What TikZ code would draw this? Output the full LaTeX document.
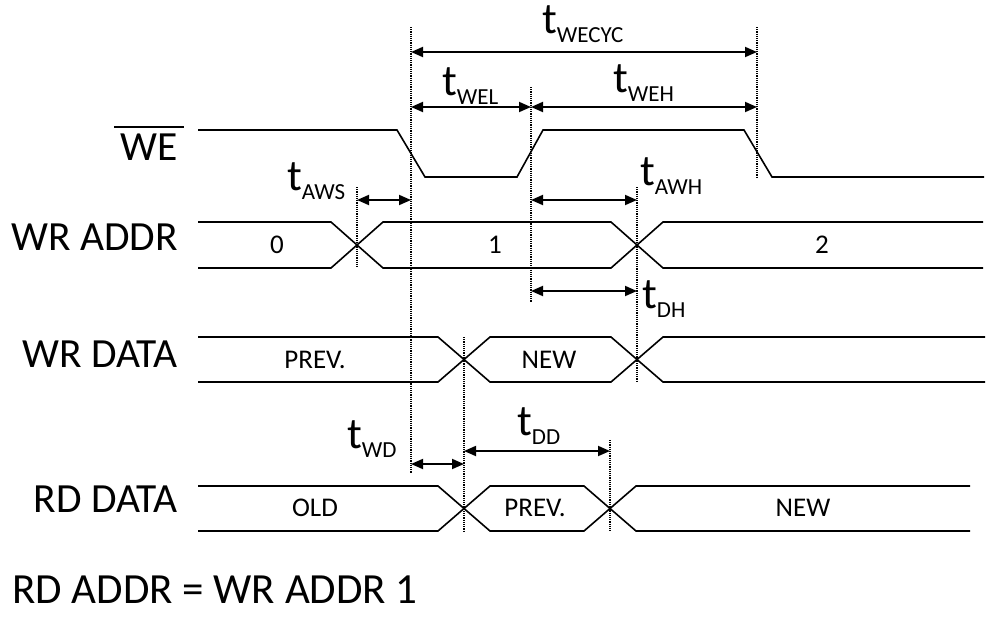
\documentclass[tikz,border=0pt]{standalone}
\usepackage{fontspec}
\setmainfont{Carlito}
\usetikzlibrary{arrows.meta,positioning,calc}

\newcommand{\tlab}[1]{{\fontsize{44}{44}\selectfont t}\raisebox{-9pt}{\fontsize{23}{23}\selectfont #1}}

\begin{document}
\begin{tikzpicture}[x=1pt,y=-1pt,
    every node/.style={inner sep=0pt},
    signame/.style={anchor=base east,font=\fontsize{41.5}{41.5}\selectfont},
    buslab/.style={font=\fontsize{27}{27}\selectfont},
    tname/.style={anchor=base west},
    wave/.style={line width=1.6pt},
    marker/.style={densely dotted,line width=1.2pt},
    dim/.style={line width=1.8pt,{Triangle[length=12pt,width=10pt]}-{Triangle[length=12pt,width=10pt]}}
  ]
  \useasboundingbox (0,0) rectangle (987,621);

  % the signal names
  \node[signame] (we) at (178,160) {WE};
  \draw[line width=2pt] ([xshift=-6pt,yshift=6pt]we.north west) -- ([xshift=6pt,yshift=6pt]we.north east);
  \node[signame] (wraddr) at (178,250) {WR ADDR};
  \node[signame] (wrdata) at (178,367) {WR DATA};
  \node[signame] (rddata) at (178,512) {RD DATA};
  \node[anchor=base west,font=\fontsize{43}{43}\selectfont] (note) at (12,603) {RD ADDR = WR ADDR 1};

  % the write enable
  \draw[wave] (198,130) -- (397,130) -- (425,177) -- (517,177) -- (543,130)
    -- (744,130) -- (772,177) -- (984,177);

  % the buses
  \foreach \ya/\yb/\xa/\xb/\xe in {222/268/357/637/983, 337/382/464/637/985, 486/531/464/610/970} {
    \draw[wave] (198,\ya) -- ({\xa-26},\ya) -- ({\xa+26},\yb) -- ({\xb-26},\yb)
      -- ({\xb+26},\ya) -- (\xe,\ya);
    \draw[wave] (198,\yb) -- ({\xa-26},\yb) -- ({\xa+26},\ya) -- ({\xb-26},\ya)
      -- ({\xb+26},\yb) -- (\xe,\yb);
  }
  \node[buslab] (a0) at (277,245) {0};
  \node[buslab] (a1) at (495,245) {1};
  \node[buslab] (a2) at (822,245) {2};
  \node[buslab] (wprev) at (315,360) {PREV.};
  \node[buslab] (wnew) at (549,360) {NEW};
  \node[buslab] (rold) at (315,508) {OLD};
  \node[buslab] (rprev) at (535,508) {PREV.};
  \node[buslab] (rnew) at (803,508) {NEW};

  % the timing markers
  \foreach \n/\x/\ya/\yb in {aws/357/187/268, wel/411/27/473, weh/531/87/302,
      cyc/757/27/177, awh/637/187/382, wd/464/337/531, dd/610/440/531} {
    \coordinate (\n-t) at (\x,\ya);
    \coordinate (\n-b) at (\x,\yb);
    \draw[marker] (\n-t) -- (\n-b);
  }

  % the timing arrows
  \draw[dim] (wel-t |- 0,52) -- (cyc-t |- 0,52);
  \draw[dim] (wel-t |- 0,107) -- (weh-t |- 0,107);
  \draw[dim] (weh-t |- 0,107) -- (cyc-t |- 0,107);
  \draw[dim] (aws-t |- 0,200) -- (wel-t |- 0,200);
  \draw[dim] (weh-t |- 0,200) -- (awh-t |- 0,200);
  \draw[dim] (weh-t |- 0,291) -- (awh-t |- 0,291);
  \draw[dim] (wel-t |- 0,464) -- (wd-t |- 0,464);
  \draw[dim] (wd-t |- 0,451) -- (dd-t |- 0,451);

  % the timing names
  \node[tname] (lcyc) at (542,33) {\tlab{WECYC}};
  \node[tname] (lwel) at (442,95) {\tlab{WEL}};
  \node[tname] (lweh) at (613,92) {\tlab{WEH}};
  \node[tname] (laws) at (287,190) {\tlab{AWS}};
  \node[tname] (lawh) at (640,185) {\tlab{AWH}};
  \node[tname] (ldh) at (642,308) {\tlab{DH}};
  \node[tname] (lwd) at (347,448) {\tlab{WD}};
  \node[tname] (ldd) at (517,435) {\tlab{DD}};
\end{tikzpicture}
\end{document}
